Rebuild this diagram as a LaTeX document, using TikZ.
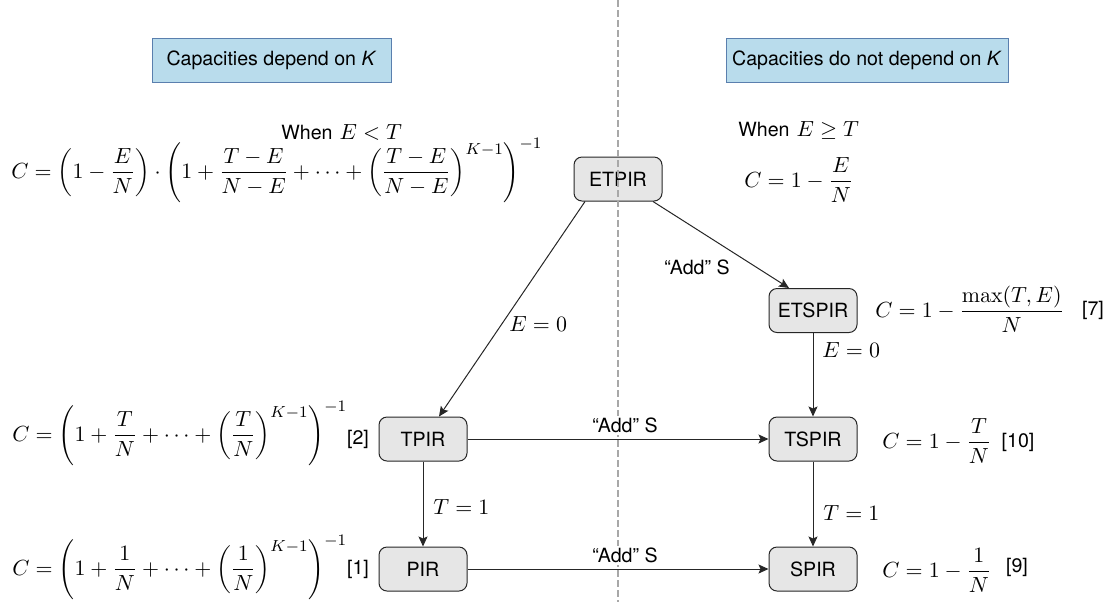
\documentclass[tikz,border=0pt]{standalone}
\usepackage[no-math]{fontspec}
\setmainfont{TeX Gyre Heros}
\usetikzlibrary{arrows.meta}
\definecolor{boxblue}{HTML}{B9DCEC}
\definecolor{boxedge}{HTML}{5A7FAE}
\definecolor{nodefill}{HTML}{E6E6E6}
\definecolor{dashgray}{HTML}{A8A8A8}
\newcommand{\mf}{\fontsize{11}{13}\selectfont}
\begin{document}
\begin{tikzpicture}[x=0.5pt,y=-0.5pt,
  every node/.style={font=\fontsize{9.8}{12}\selectfont},
  pir/.style={draw=black!85, fill=nodefill, rounded corners=4pt, minimum width=44pt, minimum height=22pt, inner sep=0pt, line width=0.5pt},
  hdr/.style={draw=boxedge, fill=boxblue, minimum height=22pt, inner sep=0pt, line width=0.5pt},
  mth/.style={font=\mf, inner sep=0pt},
  refl/.style={inner sep=0pt},
  lbl/.style={inner sep=1pt},
  wlbl/.style={inner sep=1pt, fill=white},
  arr/.style={-{Stealth[length=5pt,width=4.5pt,inset=1pt]}, line width=0.5pt, draw=black!85},
  divider/.style={draw=dashgray, line width=0.7pt, dash pattern=on 3.3pt off 1.7pt},
]
\useasboundingbox (0,0) rectangle (1112,602);

% header boxes
\node[hdr, minimum width=119.5pt] (h1) at (271.5,60) {Capacities depend on \textit{K}};
\node[hdr, minimum width=141pt] (h2) at (867,60) {Capacities do not depend on \textit{K}};

% main nodes
\node[pir] (etpir) at (618,179) {ETPIR};
\node[pir] (etspir) at (813,310.5) {ETSPIR};
\node[pir] (tpir) at (423,439) {TPIR};
\node[pir] (tspir) at (813,439) {TSPIR};
\node[pir] (pir) at (423,569) {PIR};
\node[pir] (spir) at (813,569) {SPIR};

% divider
\coordinate (dtop) at (618,0);
\coordinate (dbot) at (618,602);
\draw[divider] (dtop) -- (dbot);

% conditions
\node[anchor=base west, inner sep=0pt] (w1) at (281,139) {When\hspace{3.5pt}{\mf$E<T$}};
\node[anchor=base west, inner sep=0pt] (w2) at (738,136) {When\hspace{3.5pt}{\mf$E\geq T$}};

% formulas
\node[mth, anchor=base west] (f1) at (11,178) {$\displaystyle C=\left(1-\frac{E}{N}\right)\cdot\left(1+\frac{T-E}{N-E}+\cdots+\left(\frac{T-E}{N-E}\right)^{K-1}\right)^{-1}$};
\node[mth, anchor=base west] (f2) at (744,187) {$\displaystyle C=1-\frac{E}{N}$};
\node[mth, anchor=base west] (f3) at (875,317) {$\displaystyle C=1-\frac{\max(T,E)}{N}$};
\node[mth, anchor=base west] (f4) at (12,441) {$\displaystyle C=\left(1+\frac{T}{N}+\cdots+\left(\frac{T}{N}\right)^{K-1}\right)^{-1}$};
\node[mth, anchor=base west] (f5) at (882,448) {$\displaystyle C=1-\frac{T}{N}$};
\node[mth, anchor=base west] (f6) at (12,575) {$\displaystyle C=\left(1+\frac{1}{N}+\cdots+\left(\frac{1}{N}\right)^{K-1}\right)^{-1}$};
\node[mth, anchor=base west] (f7) at (882,577) {$\displaystyle C=1-\frac{1}{N}$};

% references
\node[refl] (r7) at (1093,310) {[7]};
\node[refl] (r10) at (1018,442) {[10]};
\node[refl] (r9) at (1017,567) {[9]};
\node[refl] (r2) at (358,439) {[2]};
\node[refl] (r1) at (358,569) {[1]};

% connectors
\draw[arr] ([xshift=-16.5pt]etpir.south) -- ([xshift=8pt]tpir.north);
\draw[arr] ([xshift=17.5pt]etpir.south) -- ([xshift=-12pt]etspir.north);
\draw[arr] (etspir) -- (tspir);
\draw[arr] (tpir) -- (tspir);
\draw[arr] (tpir) -- (pir);
\draw[arr] (tspir) -- (spir);
\draw[arr] (pir) -- (spir);

% edge labels
\node[lbl, mth, anchor=west] (l1) at (509,324) {$E=0$};
\node[lbl] (l2) at (697,267) {“Add” S};
\node[lbl, mth, anchor=west] (l3) at (822,350) {$E=0$};
\node[wlbl] (l4) at (625,425) {“Add” S};
\node[lbl, mth, anchor=west] (l5) at (433,507) {$T=1$};
\node[lbl, mth, anchor=west] (l6) at (823,513) {$T=1$};
\node[wlbl] (l7) at (625,555) {“Add” S};
\end{tikzpicture}
\end{document}
